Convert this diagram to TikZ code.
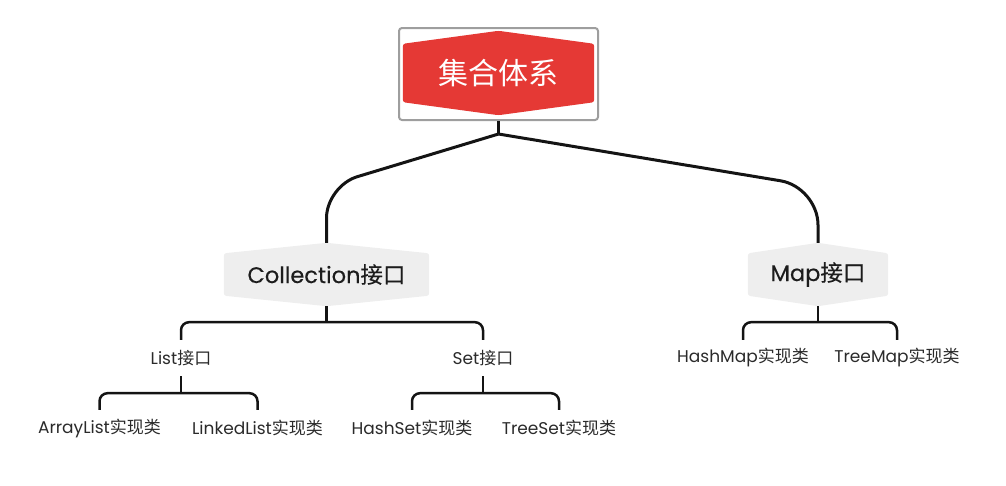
\documentclass[tikz,border=0pt]{standalone}
\usepackage{fontspec}
\setmainfont{Poppins}
\newfontfamily\cjk{Noto Sans CJK SC}
\newfontfamily\popmed{Poppins}[FakeBold=0.35]
\newfontfamily\cjkmed{Noto Sans CJK SC}[FakeBold=0.2]
\usetikzlibrary{backgrounds}
\definecolor{topred}{HTML}{E53935}
\definecolor{hexgray}{HTML}{EEEEEE}
\definecolor{framegray}{HTML}{9E9E9E}
\definecolor{linecol}{HTML}{141414}
\definecolor{txt}{HTML}{2A2A2A}
\definecolor{txtdark}{HTML}{1C1C1C}
\newcommand\hexshape[3]{\fill[#2,rounded corners=2.5pt] ([yshift=-#3]#1.north west) -- (#1.north) -- ([yshift=-#3]#1.north east) -- ([yshift=#3]#1.south east) -- (#1.south) -- ([yshift=#3]#1.south west) -- cycle;}
\begin{document}
\begin{tikzpicture}[x=1pt,y=-1pt,
  mainline/.style={draw=linecol,line width=3pt},
  brline/.style={draw=linecol,line width=2.5pt,rounded corners=8pt},
  toptext/.style={inner sep=0pt,minimum width=191pt,minimum height=84pt,text=white,font=\fontsize{30}{34}\selectfont},
  frame/.style={draw=framegray,line width=2pt,rounded corners=3pt,minimum width=199pt,minimum height=92pt,inner sep=0pt},
  midtext/.style={inner sep=0pt,minimum height=63pt,text=txtdark,font=\fontsize{22.5}{26}\popmed},
  lbl/.style={inner sep=0pt,minimum height=36pt,text=txt,font=\fontsize{17}{20}\selectfont}]
\useasboundingbox (0,0) rectangle (1006,485);
% nodes
\node[frame] (frame) at (498.5,74) {};
\node[toptext] (top) at (498.5,73) {{\cjk 集合体系}};
\node[midtext,minimum width=205pt] (coll) at (326.5,274.5) {Collection{\cjkmed 接口}};
\node[midtext,minimum width=140pt] (map) at (818,274.5) {Map{\cjkmed 接口}};
\node[lbl] (list) at (181,358) {List{\cjk 接口}};
\node[lbl] (set) at (483,358) {Set{\cjk 接口}};
\node[lbl] (arr) at (99.5,428) {ArrayList{\cjk 实现类}};
\node[lbl] (lnk) at (257.5,428) {LinkedList{\cjk 实现类}};
\node[lbl] (hset) at (412,428) {HashSet{\cjk 实现类}};
\node[lbl] (tset) at (559,428) {TreeSet{\cjk 实现类}};
\node[lbl] (hmap) at (743,358) {HashMap{\cjk 实现类}};
\node[lbl] (tmap) at (897,358) {TreeMap{\cjk 实现类}};
\begin{pgfonlayer}{background}
\hexshape{top}{topred}{13pt}
\hexshape{coll}{hexgray}{10.5pt}
\hexshape{map}{hexgray}{10.5pt}
\end{pgfonlayer}
% main connectors
\draw[mainline] (frame.south) -- ++(0,13) coordinate (j0);
\draw[mainline,rounded corners=32pt] (j0) -- (coll.north |- 0,186) -- (coll.north);
\draw[mainline,rounded corners=38pt] (j0) -- (map.north |- 0,187) -- (map.north);
% collection bracket
\draw[brline] (coll.south) -- ++(0,16) coordinate (c1);
\draw[brline] (list.north) |- (c1) -| (set.north);
% map bracket
\draw[brline] (map.south) -- ++(0,16) coordinate (m1);
\draw[brline] (hmap.north) |- (m1) -| (tmap.north);
% list bracket
\draw[brline] (list.south) -- ++(0,17) coordinate (l1);
\draw[brline] (arr.north) |- (l1) -| (lnk.north);
% set bracket
\draw[brline] (set.south) -- ++(0,17) coordinate (s1);
\draw[brline] (hset.north) |- (s1) -| (tset.north);
\end{tikzpicture}
\end{document}
